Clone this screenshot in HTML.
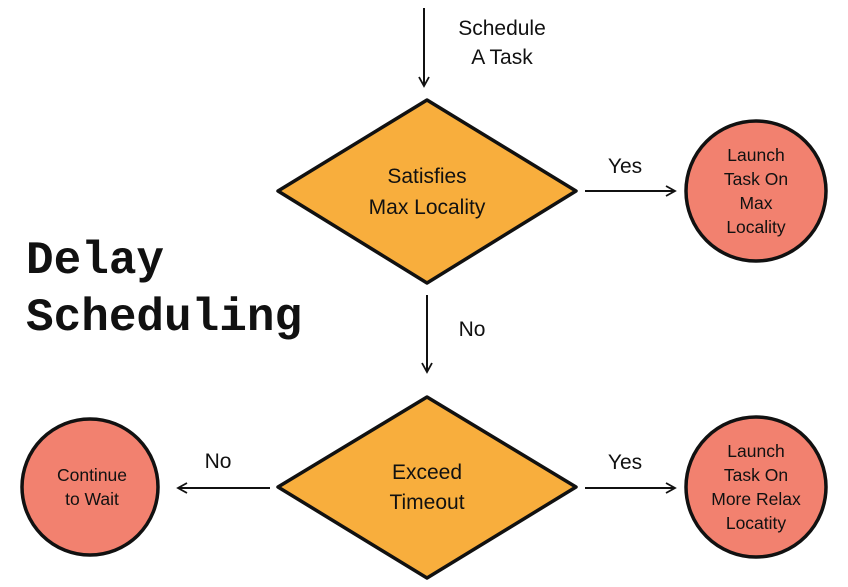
<!DOCTYPE html>
<html><head><meta charset="utf-8"><style>
html,body{margin:0;padding:0;background:#fff;width:848px;height:587px;overflow:hidden}
svg text{font-family:"Comic Sans MS","Liberation Sans",sans-serif;fill:#111}
</style></head><body>
<svg width="848" height="587" viewBox="0 0 848 587" xmlns="http://www.w3.org/2000/svg">
<defs><marker id="a" markerWidth="12" markerHeight="12" refX="10" refY="6" orient="auto" markerUnits="userSpaceOnUse"><path d="M1,1 L10,6 L1,11" fill="none" stroke="#111" stroke-width="1.8"/></marker></defs>
<g stroke="#111" stroke-width="2" fill="none">
<line x1="424" y1="8" x2="424" y2="86" marker-end="url(#a)"/>
<line x1="585" y1="191" x2="675" y2="191" marker-end="url(#a)"/>
<line x1="427" y1="295" x2="427" y2="372" marker-end="url(#a)"/>
<line x1="585" y1="488" x2="675" y2="488" marker-end="url(#a)"/>
<line x1="270" y1="488" x2="178" y2="488" marker-end="url(#a)"/>
</g>
<polygon points="427,100 576,191 427,283 278,191" fill="#f8ae3d" stroke="#111" stroke-width="3.5" stroke-linejoin="round"/>
<polygon points="427,397 576,487 427,578 278,487" fill="#f8ae3d" stroke="#111" stroke-width="3.5" stroke-linejoin="round"/>
<g fill="#f2816f" stroke="#111" stroke-width="3.5">
<circle cx="756" cy="191" r="70"/>
<circle cx="756" cy="487" r="70"/>
<circle cx="90" cy="487" r="68"/>
</g>
<g font-size="21" text-anchor="middle">
<text x="502" y="35">Schedule</text><text x="502" y="64">A Task</text>
<text x="427" y="183">Satisfies</text><text x="427" y="214">Max Locality</text>
<text x="427" y="479">Exceed</text><text x="427" y="509">Timeout</text>
<text x="625" y="173">Yes</text><text x="472" y="336">No</text>
<text x="625" y="469">Yes</text><text x="218" y="468">No</text>
</g>
<g font-size="17.5" text-anchor="middle">
<text x="756" y="161">Launch</text><text x="756" y="185">Task On</text><text x="756" y="209">Max</text><text x="756" y="233">Locality</text>
<text x="756" y="457">Launch</text><text x="756" y="481">Task On</text><text x="756" y="505">More Relax</text><text x="756" y="529">Locatity</text>
<text x="92" y="481">Continue</text><text x="92" y="505">to Wait</text>
</g>
<g font-weight="bold" font-size="46">
<text x="26" y="273" style="font-family:'Liberation Mono',monospace">Delay</text>
<text x="26" y="330" style="font-family:'Liberation Mono',monospace">Scheduling</text>
</g>
</svg>
</body></html>
